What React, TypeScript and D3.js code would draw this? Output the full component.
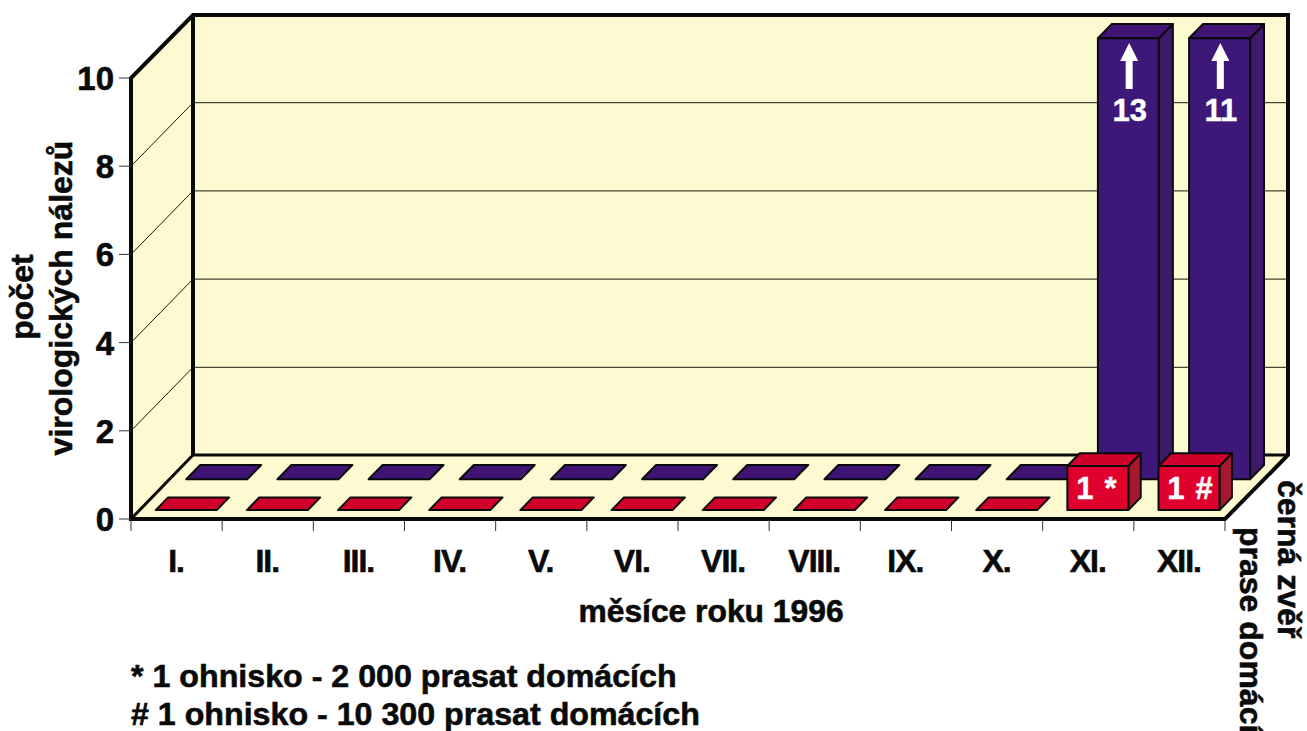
import React from "react";
import * as d3 from "d3";

const months = ["I.", "II.", "III.", "IV.", "V.", "VI.", "VII.", "VIII.", "IX.", "X.", "XI.", "XII."];
const wildBoar = [0, 0, 0, 0, 0, 0, 0, 0, 0, 0, 13, 11];
const pigs = [0, 0, 0, 0, 0, 0, 0, 0, 0, 0, 1, 1];
const wildLabels: Record<number, string> = { 10: "13", 11: "11" };
const pigLabels: Record<number, string> = { 10: "1 *", 11: "1 #" };
const yTicks = [0, 2, 4, 6, 8, 10];
const notes = ["* 1 ohnisko - 2 000 prasat domácích", "# 1 ohnisko - 10 300 prasat domácích"];

const FONT = "'Liberation Sans', Arial, sans-serif";
const CREAM = "#fdf9d0";
const INK = "#0a0a0a";

const x = d3.scaleBand<number>().domain(d3.range(12)).range([131, 1225]);
const y = d3.scaleLinear().domain([0, 10]).range([519, 78]).clamp(true);
const dx = 62;
const dy = -63.5;
const at = (px: number, py: number, t: number) => [px + dx * t, py + dy * t];
const poly = (pts: number[][]) => pts.map((p) => p.join(",")).join(" ");

function Bar({ i, v, t0, t1, front, top, side, inset = 16, width = 61 }: any) {
  const x0 = x(i)! + inset;
  const x1 = x0 + width;
  const h = y(0) - y(v);
  const [ax, ay] = at(x0, 519, t0);
  const [bx] = at(x1, 519, t0);
  const ox = dx * (t1 - t0);
  const oy = dy * (t1 - t0);
  const stroke = { stroke: INK, strokeWidth: 2, strokeLinejoin: "round" as const };
  return (
    <g>
      {h > 0 && (
        <polygon points={poly([[bx, ay], [bx + ox, ay + oy], [bx + ox, ay + oy - h], [bx, ay - h]])} fill={side} {...stroke} />
      )}
      <polygon points={poly([[ax, ay - h], [bx, ay - h], [bx + ox, ay - h + oy], [ax + ox, ay - h + oy]])} fill={top} {...stroke} />
      {h > 0 && <rect x={ax} y={ay - h} width={bx - ax} height={h} fill={front} {...stroke} />}
    </g>
  );
}

export default function App() {
  const bold = { fontFamily: FONT, fontWeight: 700, fill: "#0a0a0a", stroke: "#0a0a0a", strokeWidth: 0.6 } as const;
  const w = { fontFamily: FONT, fontWeight: 700, fill: "#fff", stroke: "#fff", strokeWidth: 0.4 } as const;
  return (
    <svg width={1307} height={731} style={{ position: "absolute", left: 0, top: 0, background: "#fff" }}>
      {/* walls and floor */}
      <polygon points={poly([[131, 78], [193, 15], [193, 455], [131, 519]])} fill={CREAM} />
      <rect x={193} y={15} width={1095} height={440} fill={CREAM} />
      <polygon points={poly([[131, 519], [193, 455], [1288, 455], [1225, 519]])} fill={CREAM} />

      {/* gridlines */}
      {yTicks.slice(1, -1).map((t) => (
        <g key={t} stroke="#1a1a10" strokeWidth={1}>
          <line x1={131} y1={y(t)} x2={193} y2={y(t) + dy} />
          <line x1={193} y1={y(t) + dy} x2={1286} y2={y(t) + dy} />
        </g>
      ))}

      {/* frame */}
      <g stroke={INK} strokeWidth={4} fill="none" strokeLinejoin="miter">
        <path d="M131,519 L131,78 L193,15 L1288,15 L1288,455 L1225,519 Z" />
        <path d="M131,519 L193,455 L1288,455" strokeWidth={3} />
        <path d="M193,15 L193,455" />
      </g>

      {/* ticks */}
      {yTicks.map((t) => (
        <g key={t}>
          <line x1={119} x2={131} y1={y(t)} y2={y(t)} stroke="#333" strokeWidth={1} />
          <text x={114} y={y(t) + 12} textAnchor="end" fontSize={33} {...bold}>{t}</text>
        </g>
      ))}
      {d3.range(13).map((i) => {
        const tx = 131 + (i * (1225 - 131)) / 12;
        return <line key={i} x1={tx} x2={tx} y1={520} y2={531} stroke="#333" strokeWidth={1} />;
      })}
      {months.map((m, i) => (
        <text key={m} x={x(i)! + x.bandwidth() / 2 - 0.5} y={572} textAnchor="middle" fontSize={32} letterSpacing={-1} {...bold}>{m}</text>
      ))}

      {/* back series */}
      {wildBoar.map((v, i) => (
        <Bar key={i} i={i} v={v} t0={0.625} t1={0.85} front="#3d1878" top="#3f1474" side="#3d1a6b" inset={16.5} />
      ))}
      {wildBoar.map((v, i) =>
        wildLabels[i] ? (
          <g key={i}>
            <text x={x(i)! + 87} y={121} textAnchor="middle" fontSize={31} {...w}>{wildLabels[i]}</text>
            <path d={`M${x(i)! + 86.5},43 l9,18 h-5.5 v28 h-7 v-28 h-5.5 z`} fill="#fff" />
          </g>
        ) : null
      )}

      {/* front series */}
      {pigs.map((v, i) => (
        <Bar key={i} i={i} v={v} t0={0.14} t1={0.34} front="#e0002d" top="#cf0029" side="#a5182f" inset={16} />
      ))}
      {pigs.map((v, i) =>
        pigLabels[i] ? (
          <text key={i} x={x(i)! + 33.5} y={499} fontSize={31} letterSpacing={1.2} {...w}>{pigLabels[i]}</text>
        ) : null
      )}

      {/* axis titles */}
      <text transform="translate(33,297) rotate(-90)" textAnchor="middle" fontSize={32} {...bold}>počet</text>
      <text transform="translate(72,298) rotate(-90)" textAnchor="middle" fontSize={32} {...bold}>virologických nálezů</text>
      <text x={711} y={622} textAnchor="middle" fontSize={31.8} {...bold}>měsíce roku 1996</text>
      <text transform="translate(1278,480) rotate(90)" fontSize={32} {...bold}>černá zvěř</text>
      <text transform="translate(1240,527) rotate(90)" fontSize={32} {...bold}>prase domácí</text>

      {notes.map((n, i) => (
        <text key={i} x={131} y={687 + i * 38} fontSize={32.2} {...bold}>{n}</text>
      ))}
    </svg>
  );
}
